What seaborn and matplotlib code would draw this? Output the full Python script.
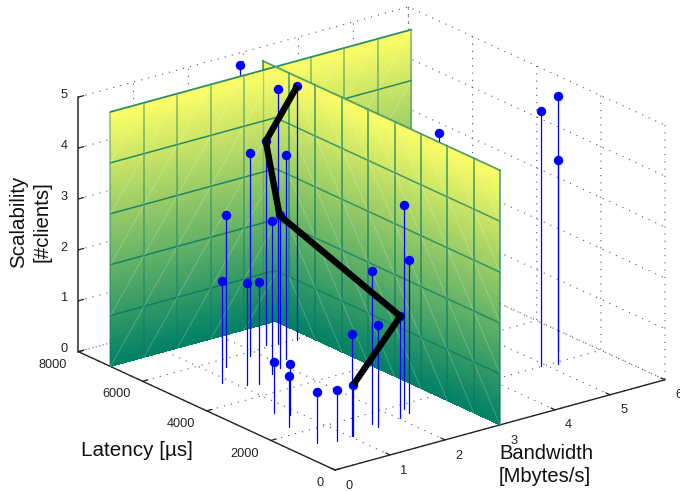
import numpy as np
import matplotlib
matplotlib.use("Agg")
import matplotlib.pyplot as plt
import seaborn as sns
from matplotlib.transforms import Affine2D
from mpl_toolkits.mplot3d import proj3d

# ---- data ----
bandwidth = [0.88, 1.11, 1.27, 1.29, 1.84, 2.31, 1.66, 2.48, 1.89, 2.20, 2.78, 0.72, 0.85, 0.53,
             0.46, 0.74, 1.04, 1.06, 1.57, 1.56, 2.03, 2.31, 2.25, 4.93, 5.18, 5.50]
latency = [5020, 4635, 4540, 5620, 5810, 6120, 4820, 6030, 4970, 5290, 5940, 3150, 2870, 2350,
           1350, 1196, 1268, 1244, 1526, 1349, 1444, 1806, 1556, 2040, 1925, 2480]
clients = [2, 2, 2, 3, 4, 4, 3, 5, 3, 4, 5, 1, 1, 1, 1, 1, 2, 1, 3, 2, 2, 4, 3, 5, 4, 5]
hidden_bandwidth = [2.65, 3.80]
hidden_latency = [7500, 3280]
hidden_clients = [5.0, 4.54]
path_bandwidth = [1.06, 2.03, 1.89, 2.31, 2.78]
path_latency = [1244, 1444, 4970, 6120, 5940]
path_clients = [1, 2, 3, 4, 5]
wall_a_latency = 7000
wall_a_bandwidth = [0, 5.47]
wall_b_bandwidth = 3
wall_b_latency = [0, 7400]
wall_clients = [0, 5]
x_ticks = [0, 1, 2, 3, 4, 5, 6]
y_ticks = [0, 2000, 4000, 6000, 8000]
z_ticks = [0, 1, 2, 3, 4, 5]

sns.set_theme(style="white")
plt.rcParams["font.family"] = ["Liberation Sans", "DejaVu Sans"]
summer = sns.color_palette("summer", as_cmap=True)

fig = plt.figure(figsize=(6.8, 4.91), dpi=100, facecolor="white")
ax = fig.add_axes([0, 0, 1, 1], projection="3d", computed_zorder=False, proj_type="ortho")
ax.view_init(elev=20.8, azim=-127.6)
ax.set_box_aspect((416, 420, 272))
ax.set_xlim(0, 6, view_margin=0)
ax.set_ylim(0, 8000, view_margin=0)
ax.set_zlim(0, 5, view_margin=0)
ax.set_xticks(x_ticks)
ax.set_yticks(y_ticks)
ax.set_zticks(z_ticks)

for axis in (ax.xaxis, ax.yaxis, ax.zaxis):
    axis.set_pane_color((1, 1, 1, 0))
    axis.pane.set_edgecolor((1, 1, 1, 0))
    axis.line.set_color("#222222")
    axis.line.set_linewidth(1.0)
    axis._axinfo["grid"].update(color="#555555", linewidth=0.8, linestyle=(0, (1, 5.5)))
    axis._axinfo["tick"].update(inward_factor=0.0, outward_factor=0.2, color="#222222", linewidth={True: 0.9, False: 0.5})
ax.zaxis.line.set_color("#555555")
ax.zaxis.line.set_linewidth(1.4)
ax.tick_params(axis="x", labelsize=9.2, pad=1, colors="#222222")
ax.tick_params(axis="y", labelsize=9.2, pad=1, colors="#222222")
ax.tick_params(axis="z", labelsize=9.2, pad=3, colors="#222222")


def wall(xs, ys, zs, order):
    z_grid = np.linspace(zs[0], zs[1], 120)
    if np.isscalar(xs):
        u = np.linspace(ys[0], ys[1], 2)
        U, Z = np.meshgrid(u, z_grid)
        X, Y = np.full_like(U, xs), U
    else:
        u = np.linspace(xs[0], xs[1], 2)
        U, Z = np.meshgrid(u, z_grid)
        X, Y = U, np.full_like(U, ys)
    ax.plot_surface(X, Y, Z, facecolors=summer(Z / wall_clients[1]), shade=False, rstride=1, cstride=1,
                    antialiased=False, linewidth=0, zorder=order)


def to3d(fixed, is_x_fixed, u, z):
    if is_x_fixed:
        return [fixed, fixed], list(u), list(z)
    return list(u), [fixed, fixed], list(z)


def wall_lines(fixed, is_x_fixed, edges, order, v_alpha, h_alpha, split=None):
    rows = np.arange(wall_clients[0], wall_clients[1] + 1)
    for e in edges:
        o = order[0] if split is not None and e > split else order[1]
        a, b, c = to3d(fixed, is_x_fixed, (e, e), (rows[0], rows[-1]))
        ax.plot(a, b, c, color="#0a7a62", lw=1.1, alpha=v_alpha, zorder=o)
    for r in rows[1:]:
        if split is None:
            spans = [(edges[0], edges[-1], order[1])]
        else:
            spans = [(edges[0], split, order[1]), (split, edges[-1], order[0])]
        for s0, s1, o in spans:
            a, b, c = to3d(fixed, is_x_fixed, (s0, s1), (r, r))
            ax.plot(a, b, c, color="#0a7a62", lw=1.1 if r < 5 else 1.3, alpha=h_alpha, zorder=o)
    for e0, e1 in zip(edges[:-1], edges[1:]):
        if split is not None and e1 > split:
            continue
        for r0, r1 in zip(rows[:-1], rows[1:]):
            a, b, c = to3d(fixed, is_x_fixed, (e0, e1), (r0, r1))
            ax.plot(a, b, c, color="white", lw=0.6, alpha=0.25, zorder=order[1])


# wall at x = 3 is split where it passes through the wall at constant latency
wall(wall_b_bandwidth, [wall_a_latency, wall_b_latency[1]], wall_clients, 2)
wall(wall_a_bandwidth, wall_a_latency, wall_clients, 4)
wall(wall_b_bandwidth, [wall_b_latency[0], wall_a_latency], wall_clients, 6)
wall_lines(wall_b_bandwidth, True, np.linspace(wall_b_latency[0], wall_b_latency[1], 10), (3, 7), 0.75, 0.7,
           split=wall_a_latency)
wall_lines(wall_a_latency, False, np.linspace(wall_a_bandwidth[0], wall_a_bandwidth[1], 10), (5, 5), 0.5, 0.85)
# the far end of the crossing wall shows faintly through the nearer one
ax.plot([wall_b_bandwidth] * 2, [wall_b_latency[1]] * 2, wall_clients, color="#0a7a62", lw=1.0, alpha=0.3, zorder=5)

for x, y, z in zip(hidden_bandwidth, hidden_latency, hidden_clients):
    ax.plot([x, x], [y, y], [0, z], color="#0000ff", lw=0.9, zorder=1)
    ax.plot([x], [y], [z], "o", color="#0000ff", ms=6.8, mew=0, zorder=1)
for x, y, z in zip(bandwidth, latency, clients):
    ax.plot([x, x], [y, y], [0, z], color="#0000ff", lw=0.9, zorder=8)
ax.plot(bandwidth, latency, clients, "o", ls="none", color="#0000ff", ms=6.8, mew=0, zorder=9)
ax.plot(path_bandwidth, path_latency, path_clients, color="black", lw=4.6, solid_capstyle="butt",
        solid_joinstyle="miter", zorder=10)

fig.text(81 / 680, 1 - 451 / 491, "Latency [\u00b5s]", fontsize=14.9, color="#111111", va="center", ha="left")
fig.text(499 / 680, 1 - 465 / 491, "Bandwidth\n[Mbytes/s]", fontsize=14.5, color="#111111", va="center",
         ha="left", linespacing=1.33)
fig.text(30 / 680, 1 - 222 / 491, "Scalability\n[#clients]", fontsize=14.8, color="#111111", va="center",
         ha="center", rotation=90, linespacing=1.3)


def to_px(x, y, z):
    X, Y, _ = proj3d.proj_transform(x, y, z, ax.get_proj())
    return ax.transData.transform((X, Y))


# fit the view box to the figure so that the axes span the same pixels as the reference
ax.apply_aspect()
span = to_px(x_ticks[-1], 0, 0)[0] - to_px(0, 0, 0)[0]
side = min(fig.bbox.width, fig.bbox.height) * 330.0 / span
ax.set_position([0, 0, side / fig.bbox.width, side / fig.bbox.height])
ax.apply_aspect()
origin = to_px(0, 0, 0)
ax.set_position([(335 - origin[0]) / fig.bbox.width, (491 - 470 - origin[1]) / fig.bbox.height,
                 side / fig.bbox.width, side / fig.bbox.height])

# nudge the tick labels (pixels) to where the reference prints them; Axis3D resets
# label transforms on every draw, so the setter is disabled after the nudge
label_nudge = {ax.xaxis: (4.0, 4.5, "center"), ax.yaxis: (1, 6, "right"), ax.zaxis: (13, 7, "center")}
for axis, (dx, dy, align) in label_nudge.items():
    for tick in axis.get_major_ticks():
        tick.label1.set_ha(align)
        tick.label1.set_transform(ax.transData + Affine2D().translate(dx, dy))
        tick.label1.set_transform = lambda _t: None

fig.savefig("out.png", dpi=100, facecolor="white")
